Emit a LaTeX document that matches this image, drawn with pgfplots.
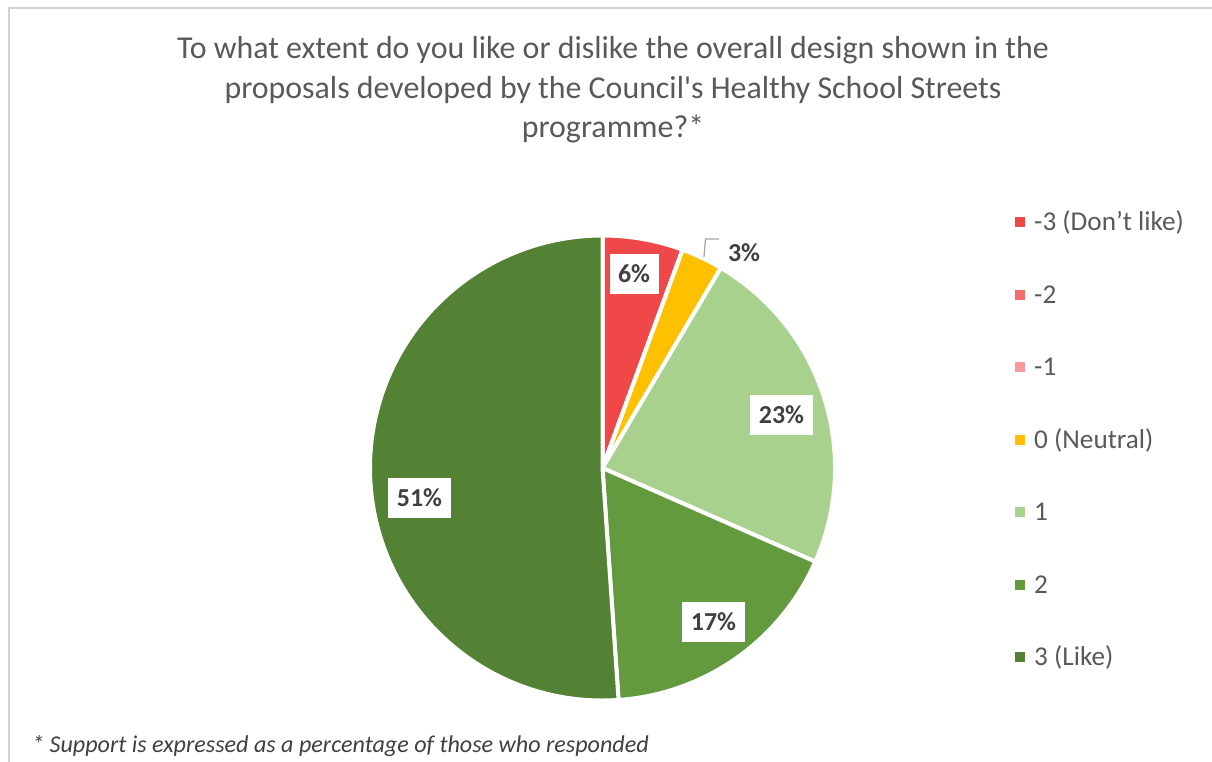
\documentclass[border=0pt]{standalone}
\usepackage{fontspec}
\setmainfont{Carlito}
\usepackage{pgfplots}
\usepackage{pgfplotstable}
\pgfplotsset{compat=1.18}

\definecolor{c0}{HTML}{F04848}
\definecolor{c1}{HTML}{F36D6D}
\definecolor{c2}{HTML}{F69A9A}
\definecolor{c3}{HTML}{FFC000}
\definecolor{c4}{HTML}{A9D18E}
\definecolor{c5}{HTML}{639A3E}
\definecolor{c6}{HTML}{548235}
\definecolor{titlegray}{HTML}{595959}
\definecolor{labgray}{HTML}{404040}
\definecolor{framegray}{HTML}{D0D0D0}
\definecolor{leadgray}{HTML}{A6A6A6}

\pgfplotstableread[col sep=comma]{
level,value
-3 (Don’t like),5.6
-2,0
-1,0
0 (Neutral),2.9
1,23.1
2,17.3
3 (Like),51.1
}\piedata

\begin{document}
\begin{tikzpicture}
\useasboundingbox (0,0) rectangle (1212bp,762bp);
% cumulative angles from the data (clockwise from 12 o'clock)
\def\cum{0}
\pgfplotsforeachungrouped \i in {0,...,6}{%
  \pgfplotstablegetelem{\i}{value}\of\piedata
  \let\v\pgfplotsretval
  \pgfmathsetmacro\sa{90-3.6*\cum}%
  \pgfmathsetmacro\cum{\cum+\v}%
  \pgfmathsetmacro\ea{90-3.6*\cum}%
  \expandafter\xdef\csname sa\i\endcsname{\sa}%
  \expandafter\xdef\csname ea\i\endcsname{\ea}%
  \pgfmathtruncatemacro\vv{round(\v)}%
  \expandafter\xdef\csname val\i\endcsname{\vv}%
  \pgfplotstablegetelem{\i}{level}\of\piedata
  \expandafter\xdef\csname lev\i\endcsname{\pgfplotsretval}%
}
\begin{axis}[
  width=1212bp, height=762bp, scale only axis,
  xmin=0, xmax=1212, ymin=0, ymax=762, y dir=reverse,
  hide axis, clip=false,
]
% frame
\draw[framegray, line width=2bp] (axis cs:9,762) -- (axis cs:9,8) -- (axis cs:1212,8);
% title
\tikzset{ttl/.style={anchor=base, font=\fontsize{32}{38}\selectfont, text=titlegray, inner sep=0}}
\node[ttl] at (axis cs:613,59) {To what extent do you like or dislike the overall design shown in the};
\node[ttl] at (axis cs:613,98.5) {proposals developed by the Council\textquotesingle s Healthy School Streets};
\node[ttl] at (axis cs:613,138) {programme?*};
% slices
\pgfplotsinvokeforeach{0,...,6}{%
  \filldraw[fill=c#1, draw=white, line width=4bp, line join=round]
    (axis cs:602.5,468) -- ++({\csname sa#1\endcsname}:232.5bp)
    arc[start angle=\csname sa#1\endcsname, end angle=\csname ea#1\endcsname, radius=232.5bp] -- cycle;
}
% data labels
\tikzset{dlab/.style={fill=white, text=labgray, font=\fontsize{26}{30}\selectfont\bfseries,
  inner xsep=8.5bp, inner ysep=0pt, minimum height=40bp, text height=17bp, text depth=0pt}}
\node[dlab] at (axis cs:634,273.5) {\csname val0\endcsname\%};
\node[dlab] at (axis cs:781.5,415) {\csname val4\endcsname\%};
\node[dlab] at (axis cs:713.5,621.5) {\csname val5\endcsname\%};
\node[dlab] at (axis cs:419.5,497.5) {\csname val6\endcsname\%};
\draw[leadgray, line width=1.3bp] (axis cs:704,257) -- (axis cs:705.5,239) -- (axis cs:719,239);
\node[text=labgray, font=\fontsize{26}{30}\selectfont\bfseries, inner sep=0, text height=17bp, text depth=0pt]
  at (axis cs:744,253) {\csname val3\endcsname\%};
% legend
\pgfplotsinvokeforeach{0,...,6}{%
  \fill[c#1] (axis cs:1015,{217+72.5*#1}) rectangle (axis cs:1025,{227+72.5*#1});
  \node[anchor=base west, inner sep=0, text=titlegray, font=\fontsize{27.3}{32}\selectfont]
    at (axis cs:1034,{230.5+72.5*#1}) {\csname lev#1\endcsname};
}
% footnote
\node[anchor=base west, inner sep=0, text=labgray, font=\fontsize{24.2}{28}\selectfont\itshape]
  at (axis cs:32,752) {* Support is expressed as a percentage of those who responded};
\end{axis}
\end{tikzpicture}
\end{document}
